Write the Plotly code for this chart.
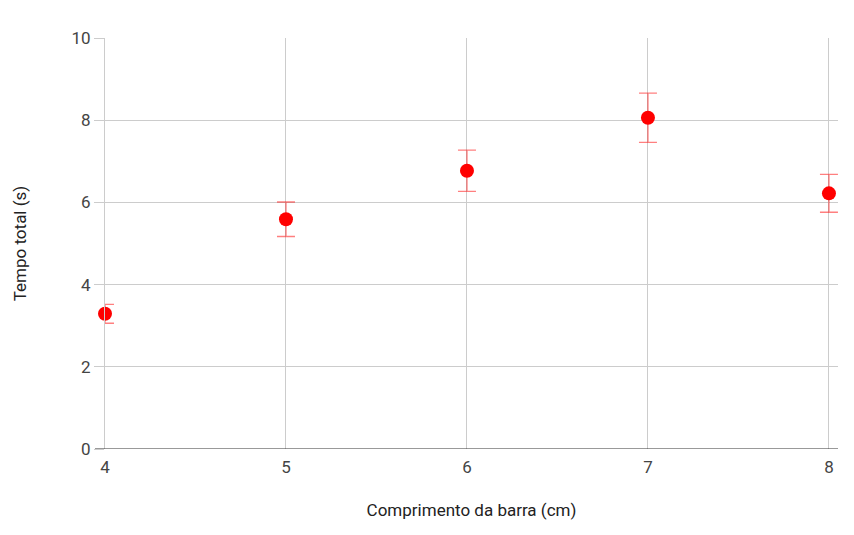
import plotly.graph_objects as go

comprimento = [4, 5, 6, 7, 8]
tempo = [3.29, 5.59, 6.77, 8.06, 6.22]
erro = [0.23, 0.42, 0.5, 0.6, 0.46]
y_ticks = [0, 2, 4, 6, 8, 10]

fig = go.Figure()
fig.add_trace(go.Scatter(
    x=comprimento, y=tempo, mode="markers",
    marker=dict(color="#ff0000", size=14),
    error_y=dict(type="data", array=erro, visible=True,
                 color="rgba(255,0,0,0.5)", thickness=1.3, width=9),
    showlegend=False, cliponaxis=False,
))
plot_w = 854 - 105 - 16
fig.add_shape(type="line", xref="paper", yref="y", x0=-10 / plot_w, x1=1, y0=0, y1=0,
              line=dict(color="#333333", width=1), layer="above")
fig.update_layout(
    width=854, height=535,
    margin=dict(l=105, r=16, t=38, b=86),
    paper_bgcolor="white", plot_bgcolor="white",
    font=dict(family="Roboto, Arial", size=17, color="#444"),
    xaxis=dict(
        range=[4, 8.05], tickvals=comprimento, ticktext=[str(v) for v in comprimento],
        showgrid=True, gridcolor="#cccccc", gridwidth=1,
        zeroline=False, showline=False,
        ticks="outside", ticklen=3, tickcolor="rgba(0,0,0,0)",
        tickfont=dict(size=17, color="#444"),
        title=dict(text="Comprimento da barra (cm)", font=dict(size=17, color="#222"), standoff=27),
    ),
    yaxis=dict(
        range=[0, 10], tickvals=y_ticks,
        showgrid=True, gridcolor="#cccccc", gridwidth=1,
        zeroline=False, showline=True, linecolor="#cccccc", linewidth=1,
        ticks="outside", ticklen=10, tickcolor="#cccccc",
        tickfont=dict(size=17, color="#444"),
        title=dict(text="Tempo total (s)", font=dict(size=17, color="#222"), standoff=40),
    ),
)
fig.write_html("out.html")
